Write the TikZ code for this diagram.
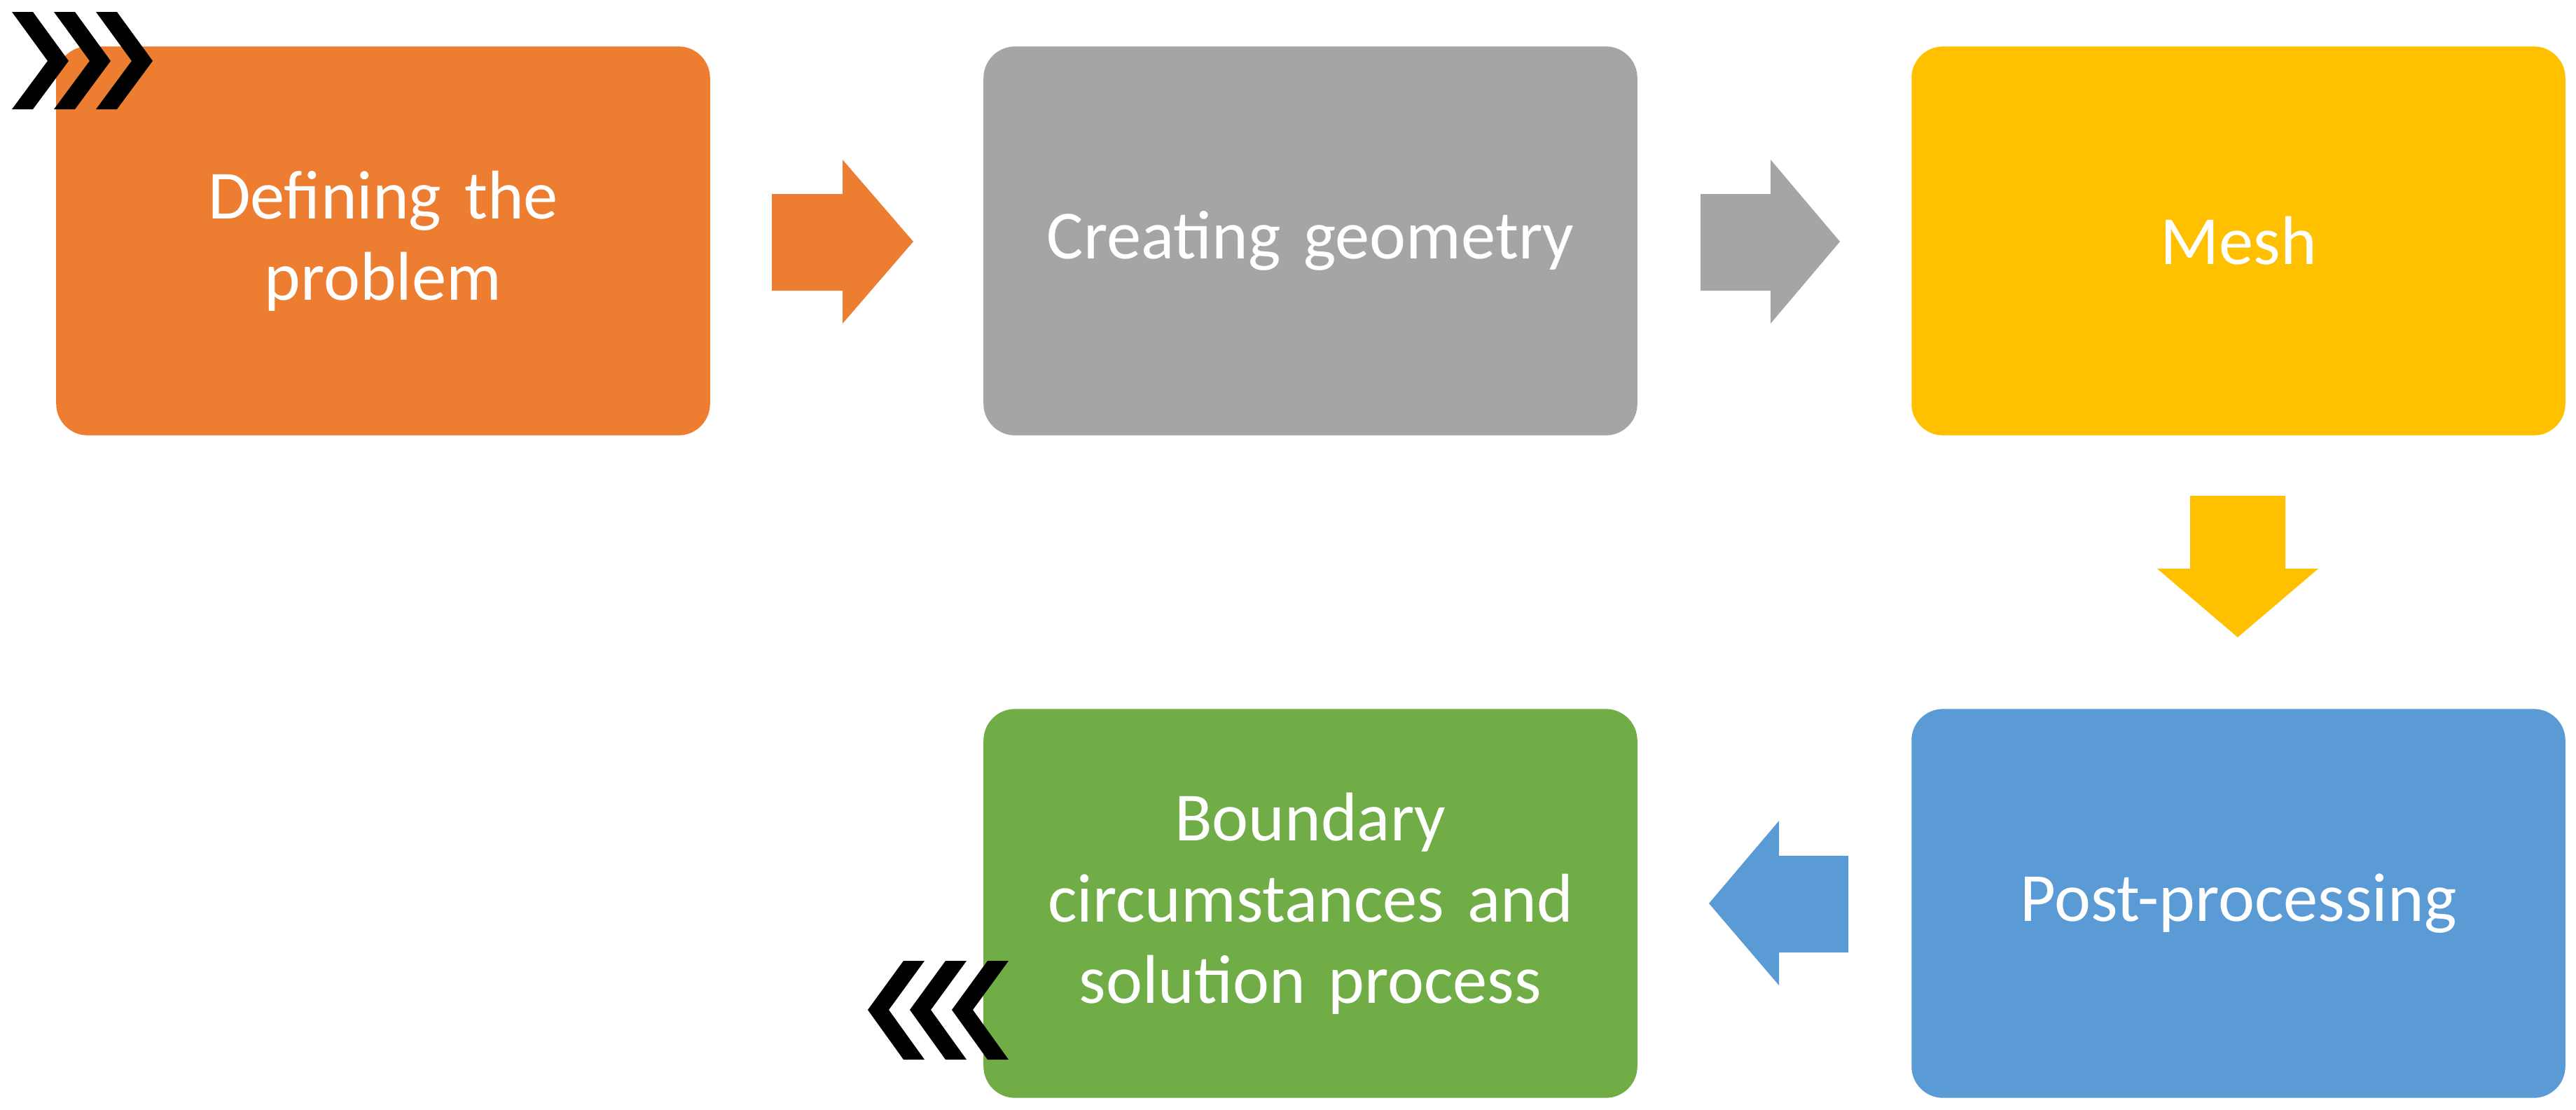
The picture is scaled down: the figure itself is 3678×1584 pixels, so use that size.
\documentclass[tikz,border=0pt]{standalone}
\usepackage{fontspec}
\setmainfont{Carlito}
\definecolor{cOr}{HTML}{ED7D31}
\definecolor{cGr}{HTML}{A5A5A5}
\definecolor{cYe}{HTML}{FFC000}
\definecolor{cBl}{HTML}{5B9BD5}
\definecolor{cGn}{HTML}{70AD47}
\begin{document}
\begin{tikzpicture}[x=0.01cm,y=-0.01cm,
  box/.style={rounded corners=0.45cm,minimum width=9.33cm,minimum height=5.55cm,
    text=white,align=center,font=\fontsize{28}{33}\selectfont,inner sep=0pt,text width=9cm},
  arr/.style={draw=none}]
\useasboundingbox (0,0) rectangle (3678,1584);
\node[box,fill=cOr] (b1) at (547,344) {Defining the\\problem};
\node[box,fill=cGr] (b2) at (1871,344) {Creating geometry};
\node[box,fill=cYe] (b3) at (3196,344) {Mesh};
\node[box,fill=cGn] (b4) at (1871,1290) {Boundary\\circumstances and\\solution process};
\node[box,fill=cBl] (b5) at (3196,1290) {Post-processing};
% arrows
\fill[cOr] (1102,277) -- (1203,277) -- (1203,228) -- (1304,345) -- (1203,462) -- (1203,415) -- (1102,415) -- cycle;
\fill[cGr] (2428,277) -- (2528,277) -- (2528,228) -- (2627,345) -- (2528,462) -- (2528,415) -- (2428,415) -- cycle;
\fill[cYe] (3127,708) -- (3263,708) -- (3263,812) -- (3310,812) -- (3195,910) -- (3080,812) -- (3127,812) -- cycle;
\fill[cBl] (2639,1222) -- (2540,1222) -- (2540,1172) -- (2440,1290) -- (2540,1407) -- (2540,1360) -- (2639,1360) -- cycle;
% chevrons
\foreach \dx in {0,60,120}{
  \fill[black] ({17+\dx},17) -- ({47+\dx},17) -- ({98+\dx},87) -- ({47+\dx},156) -- ({17+\dx},156) -- ({68+\dx},87) -- cycle;
  \fill[black] ({1440-\dx},1372) -- ({1410-\dx},1372) -- ({1359-\dx},1442) -- ({1410-\dx},1513) -- ({1440-\dx},1513) -- ({1389-\dx},1442) -- cycle;
}
\end{tikzpicture}
\end{document}
